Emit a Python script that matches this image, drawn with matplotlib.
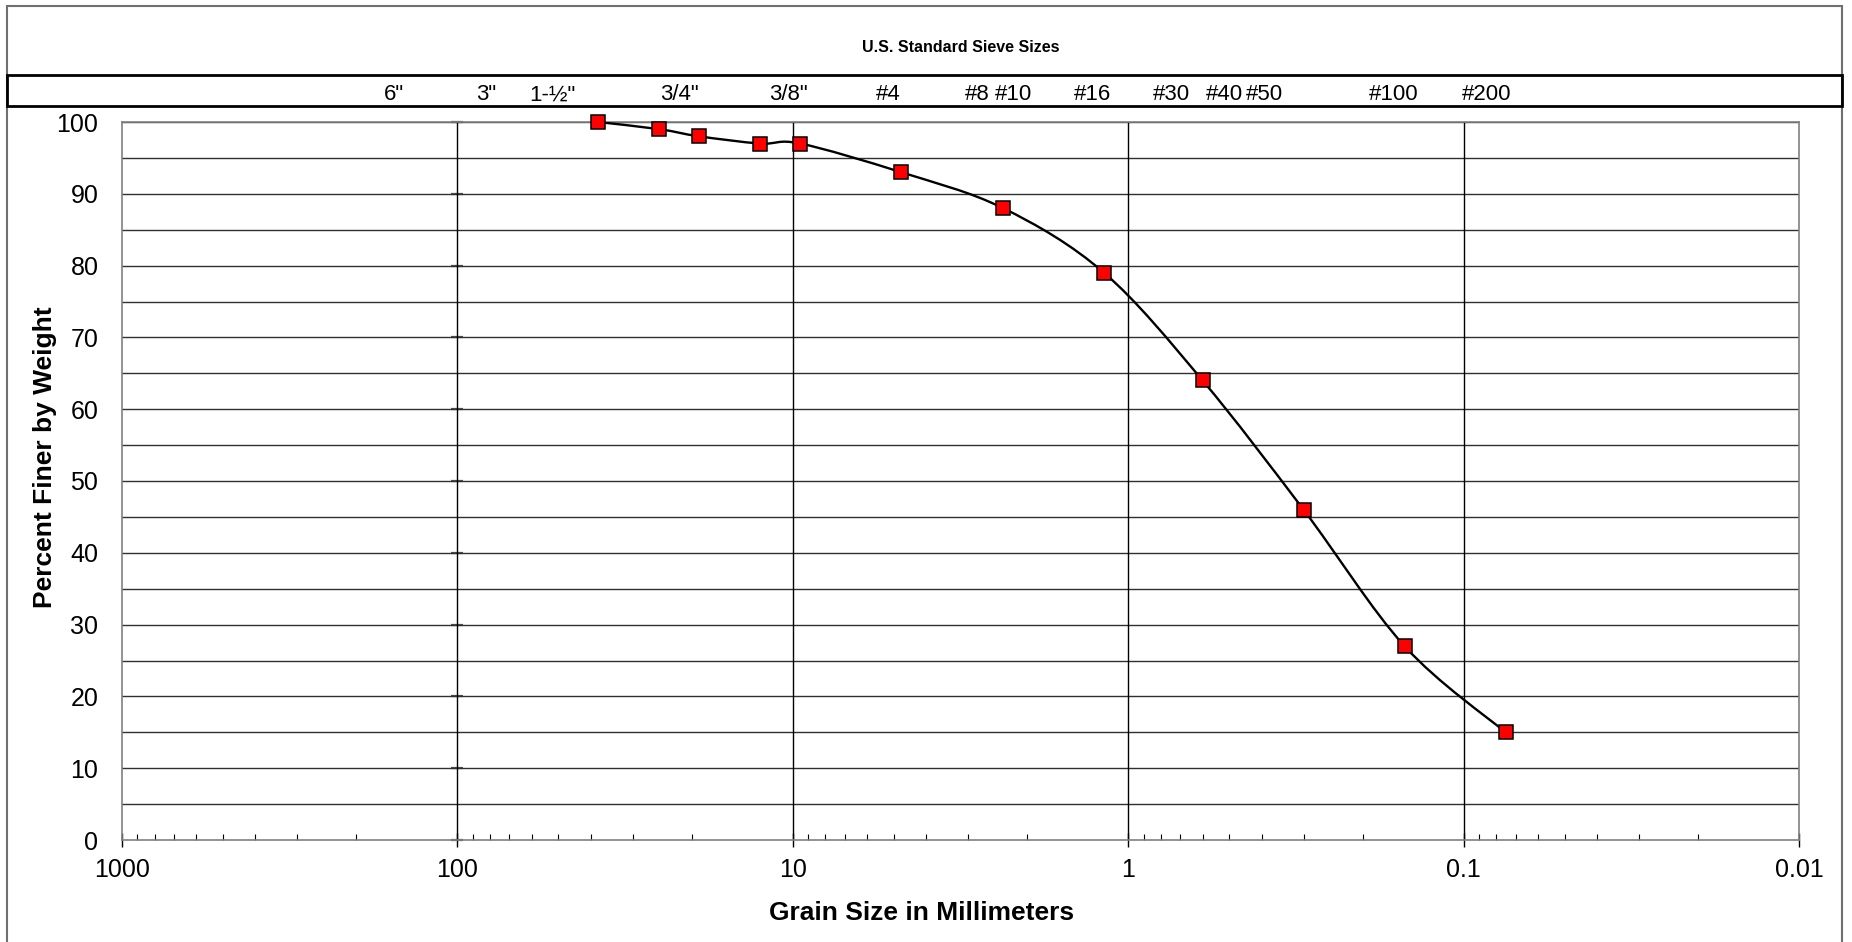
import numpy as np
import matplotlib
matplotlib.use('Agg')
import matplotlib.pyplot as plt
from matplotlib.path import Path
from matplotlib.patches import PathPatch, Rectangle
from matplotlib.ticker import FixedLocator, LogLocator, NullFormatter, FixedFormatter
import matplotlib.transforms as mtransforms

plt.rcParams['font.family'] = ['Liberation Sans', 'DejaVu Sans']

# ---- data ----
grain_size_mm = [38.1, 25.0, 19.0, 12.5, 9.5, 4.75, 2.36, 1.18, 0.6, 0.3, 0.15, 0.075]
percent_finer = [100, 99, 98, 97, 97, 93, 88, 79, 64, 46, 27, 15]

sieve_labels = ['6"', '3"', '1-½"', '3/4"', '3/8"', '#4', '#8', '#10', '#16',
                '#30', '#40', '#50', '#100', '#200']
sieve_label_pos_mm = [155, 82, 52, 21.8, 10.3, 5.2, 2.81, 2.2, 1.28,
                      0.745, 0.518, 0.393, 0.162, 0.0855]

x_tick_values = [1000, 100, 10, 1, 0.1, 0.01]
x_tick_labels = ['1000', '100', '10', '1', '0.1', '0.01']
y_tick_values = list(range(0, 101, 10))
y_grid_values = list(range(5, 101, 5))
x_grid_values = [100, 10, 1, 0.1]

title_text = 'U.S. Standard Sieve Sizes'
x_label = 'Grain Size in Millimeters'
y_label = 'Percent Finer by Weight'

# ---- figure ----
W, H = 1852, 942
fig = plt.figure(figsize=(W / 100, H / 100), dpi=100)
fig.patch.set_facecolor('white')

ax_left, ax_right, ax_top, ax_bottom = 122, 1799, 122, 840
ax = fig.add_axes([ax_left / W, 1 - ax_bottom / H,
                   (ax_right - ax_left) / W, (ax_bottom - ax_top) / H])

ax.set_xscale('log')
ax.set_xlim(1000, 0.01)
ax.set_ylim(0, 100)

# grid
for yv in y_grid_values:
    ax.axhline(yv, color='#303030', lw=1.0, zorder=1)
for xv in x_grid_values:
    ax.axvline(xv, color='black', lw=1.0, zorder=1)

for sp in ax.spines.values():
    sp.set_color('#808080')
    sp.set_linewidth(1.2)

# ticks
ax.xaxis.set_major_locator(FixedLocator(x_tick_values))
ax.xaxis.set_major_formatter(FixedFormatter(x_tick_labels))
ax.xaxis.set_minor_locator(LogLocator(base=10, subs=np.arange(2, 10)))
ax.xaxis.set_minor_formatter(NullFormatter())
ax.tick_params(axis='x', which='major', direction='inout', length=9.5, width=1,
               color='black', labelsize=18, pad=8)
ax.tick_params(axis='x', which='minor', direction='in', length=4.3, width=0.8,
               color='black')
ax.set_yticks(y_tick_values)
ax.tick_params(axis='y', which='major', length=0, labelsize=18, pad=17)
ax.tick_params(top=False, right=False)

# secondary value axis crossing at 100 mm (tick marks only)
sec = ax.secondary_yaxis(0.2)
sec.spines['left'].set_visible(False)
sec.set_yticks(y_tick_values)
sec.tick_params(axis='y', direction='inout', length=8, width=1.6,
                color='#505050', labelleft=False)

# smooth curve (Excel-style cubic Bezier through the points, in log-x space)
lx = np.log10(np.array(grain_size_mm, dtype=float))
ly = np.array(percent_finer, dtype=float)
P = np.column_stack([lx, ly])
n = len(P)
Pext = np.vstack([P[0], P, P[-1]])
verts = [P[0]]
codes = [Path.MOVETO]
for i in range(n - 1):
    p0, p1, p2, p3 = Pext[i], Pext[i + 1], Pext[i + 2], Pext[i + 3]
    c1 = p1 + (p2 - p0) / 6.0
    c2 = p2 - (p3 - p1) / 6.0
    verts += [c1, c2, p2]
    codes += [Path.CURVE4] * 3
verts = np.array(verts)
verts_data = np.column_stack([10 ** verts[:, 0], verts[:, 1]])
patch = PathPatch(Path(verts_data, codes), fill=False, edgecolor='black',
                  lw=1.7, zorder=3, transform=ax.transData)
ax.add_patch(patch)

ax.plot(grain_size_mm, percent_finer, linestyle='none', marker='s', ms=10.5,
        mfc='#ff0000', mec='black', mew=1.1, zorder=4, clip_on=False)

# axis labels
ax.set_xlabel(x_label, fontsize=19, fontweight='bold', va='center')
ax.xaxis.set_label_coords((922 - ax_left) / (ax_right - ax_left),
                          -(913 - ax_bottom) / (ax_bottom - ax_top))
ax.set_ylabel(y_label, fontsize=19, fontweight='bold', va='center')
ax.yaxis.set_label_coords(-(ax_left - 45) / (ax_right - ax_left),
                          (ax_bottom - 457) / (ax_bottom - ax_top))

# outer frame and sieve header box
frame = Rectangle((7 / W, -0.01), (1842 - 7) / W, 1.01 - 6 / H,
                  transform=fig.transFigure, fill=False, edgecolor='#707070',
                  lw=1.5, zorder=0)
fig.patches.append(frame)
box = Rectangle((7 / W, 1 - 106 / H), (1842 - 7) / W, (106 - 75) / H,
                transform=fig.transFigure, fill=False, edgecolor='black',
                lw=2.0, zorder=1)
fig.patches.append(box)

fig.text(0.5 * (ax_left + ax_right) / W, 1 - 47 / H, title_text, fontsize=11.5,
         fontweight='bold', ha='center', va='center')

trans = mtransforms.blended_transform_factory(ax.transData, fig.transFigure)
for lab, pos in zip(sieve_labels, sieve_label_pos_mm):
    fig.text(pos, 1 - 95 / H, lab, transform=trans, fontsize=16,
             ha='center', va='center', clip_on=False)

fig.savefig('out.png', dpi=100, facecolor='white')
